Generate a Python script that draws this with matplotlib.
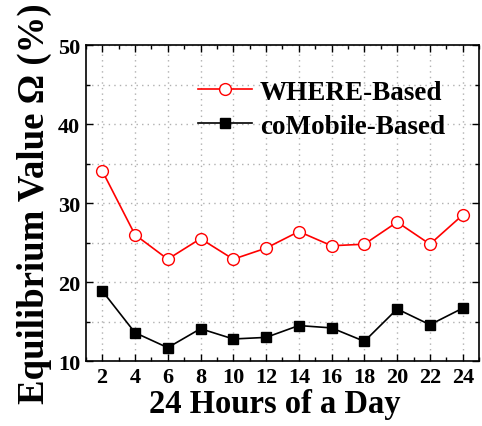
import matplotlib
matplotlib.use("Agg")
import matplotlib.pyplot as plt
from matplotlib.ticker import MultipleLocator

hours = [2, 4, 6, 8, 10, 12, 14, 16, 18, 20, 22, 24]
where_based = [34.1, 26.0, 22.9, 25.5, 22.9, 24.3, 26.4, 24.6, 24.8, 27.6, 24.8, 28.5]
comobile_based = [18.9, 13.6, 11.7, 14.1, 12.8, 13.0, 14.5, 14.2, 12.5, 16.6, 14.6, 16.7]

plt.rcParams['font.family'] = ['Liberation Serif', 'DejaVu Serif']
plt.rcParams['font.weight'] = 'bold'

fig = plt.figure(figsize=(4.82, 4.27), dpi=100)
ax = fig.add_axes([0.178, 0.152, 0.816, 0.740])

ax.plot(hours, where_based, color='red', lw=1.2, marker='o', ms=8.5,
        mfc='white', mec='red', mew=1.0, label='WHERE-Based', zorder=3)
ax.plot(hours, comobile_based, color='black', lw=1.2, marker='s', ms=7.5,
        mfc='black', mec='black', label='coMobile-Based', zorder=3)

ax.set_xlim(1, 25)
ax.set_ylim(10, 50)
ax.xaxis.set_major_locator(MultipleLocator(2))
ax.xaxis.set_minor_locator(MultipleLocator(1))
ax.yaxis.set_major_locator(MultipleLocator(10))
ax.yaxis.set_minor_locator(MultipleLocator(5))
gstyle = dict(color='#b0b0b0', linestyle=(0, (1, 3)), lw=1.0)
ax.xaxis.grid(True, which='major', **gstyle)
ax.yaxis.grid(True, which='both', **gstyle)
ax.tick_params(which='both', direction='in', top=True, right=True, labelsize=16)
ax.tick_params(which='major', length=5, width=1.0, pad=4)
ax.tick_params(which='minor', length=3, width=1.0)
for lab in ax.get_xticklabels() + ax.get_yticklabels():
    lab.set_fontweight('bold')
for s in ax.spines.values():
    s.set_linewidth(1.2)

ax.set_xlabel('24 Hours of a Day', fontsize=23.5, fontweight='bold')
ax.xaxis.set_label_coords(0.48, -0.085, transform=ax.transAxes)
ax.xaxis.label.set_va('top')
ax.set_ylabel('Equilibrium Value Ω (%)', fontsize=26.5, fontweight='bold', labelpad=4)

leg = ax.legend(loc='upper left', bbox_to_anchor=(0.257, 0.925), frameon=False,
                prop={'size': 19.5, 'weight': 'bold'}, handlelength=2.0,
                handletextpad=0.3, labelspacing=0.33, borderaxespad=0)

fig.savefig('out.png', dpi=100)
